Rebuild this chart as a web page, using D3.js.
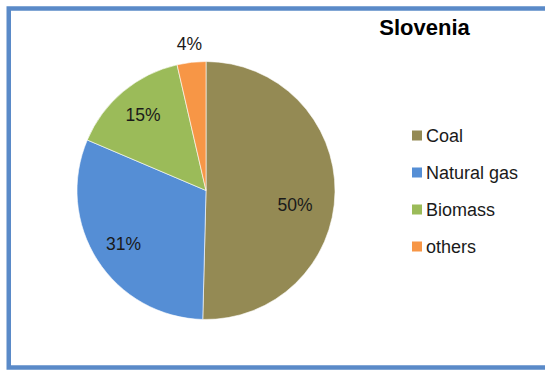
<!DOCTYPE html>
<html>
<head>
<meta charset="utf-8">
<script src="https://cdn.jsdelivr.net/npm/d3@7"></script>
<style>
  html, body { margin: 0; padding: 0; background: #ffffff; }
  svg { display: block; }
  text { font-family: "Liberation Sans", Arial, sans-serif; }
</style>
</head>
<body>
<svg id="chart" width="545" height="370"></svg>
<script>
// ---- data ----
const title = "Slovenia";
const categories = ["Coal", "Natural gas", "Biomass", "others"];
const shares = [50.4, 31.0, 15.0, 3.6];
const colors = ["#948A54", "#558ED5", "#9BBB59", "#F79646"];

// ---- layout ----
const W = 545, H = 370;
const cx = 206, cy = 190.5, R = 129;

const svg = d3.select("#chart");

// white background and frame
svg.append("rect").attr("x", 0).attr("y", 0).attr("width", W).attr("height", H).attr("fill", "#fff");
svg.append("rect")
  .attr("x", 8.75).attr("y", 8.5)
  .attr("width", W + 20).attr("height", 359)
  .attr("fill", "none")
  .attr("stroke", "#5A8AC8")
  .attr("stroke-width", 4.5);

const data = categories.map((c, i) => ({ name: c, value: shares[i], color: colors[i] }));

const pie = d3.pie().sort(null).value(d => d.value);
const arcs = pie(data);

const arc = d3.arc().innerRadius(0).outerRadius(R);
const inLabel = d3.arc().innerRadius(R * 0.76).outerRadius(R * 0.76);
const outLabel = d3.arc().innerRadius(R * 1.14).outerRadius(R * 1.14);

const g = svg.append("g").attr("transform", `translate(${cx},${cy})`);

g.selectAll("path.slice")
  .data(arcs)
  .enter().append("path")
  .attr("class", "slice")
  .attr("d", arc)
  .attr("fill", d => d.data.color)
  .attr("stroke", "#ffffff")
  .attr("stroke-width", 0.6);

// data labels (small slices go outside)
const pct = v => Math.round(v) + "%";
const nudge = { "Coal": [-9, 13] };
g.selectAll("text.lbl")
  .data(arcs)
  .enter().append("text")
  .attr("class", "lbl")
  .attr("transform", d => {
    const small = d.data.value < 5;
    const p = (small ? outLabel : inLabel).centroid(d);
    const n = nudge[d.data.name] || [0, 0];
    return `translate(${p[0] + n[0]},${p[1] + n[1]})`;
  })
  .attr("text-anchor", "middle")
  .attr("dominant-baseline", "central")
  .attr("font-size", "17.5px")
  .attr("fill", "#1a1a1a")
  .text(d => pct(d.data.value));

// title
svg.append("text")
  .attr("x", 424.5).attr("y", 35)
  .attr("text-anchor", "middle")
  .attr("font-size", "22px")
  .attr("font-weight", "bold")
  .attr("fill", "#000")
  .text(title);

// legend
const legY = d3.scalePoint().domain(categories).range([135.5, 246.5]);
const leg = svg.append("g");
const items = leg.selectAll("g.item").data(data).enter().append("g")
  .attr("class", "item")
  .attr("transform", d => `translate(412,${legY(d.name)})`);
items.append("rect")
  .attr("x", 0).attr("y", -5)
  .attr("width", 10).attr("height", 10)
  .attr("fill", d => d.color);
items.append("text")
  .attr("x", 14).attr("y", 0)
  .attr("dominant-baseline", "central")
  .attr("font-size", "18px")
  .attr("fill", "#1a1a1a")
  .text(d => d.name);
</script>
</body>
</html>
